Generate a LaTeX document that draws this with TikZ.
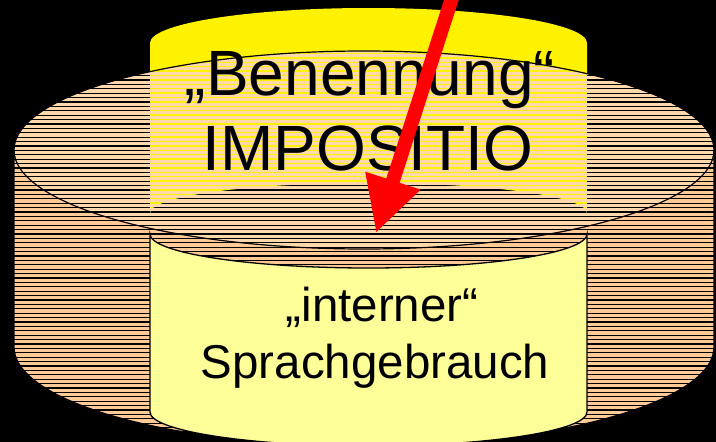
\documentclass[tikz,border=0pt]{standalone}
\usepackage{fontspec}
\setmainfont{Liberation Sans}
\usepackage{xcolor}
\usepackage{tikz}
\usetikzlibrary{arrows.meta}

\definecolor{peachtop}{HTML}{FFD8AC}
\definecolor{peachside}{HTML}{FFCA96}
\definecolor{paleyellow}{HTML}{FFFF99}

\begin{document}
\begin{tikzpicture}[
    x=1pt, y=-1pt,
    hatch/.style={black, line width=1.2pt},
    yellowhatch/.style={yellow, line width=1.3pt},
    outline/.style={black, line width=1.2pt},
    bigtext/.style={font=\fontsize{64pt}{75pt}\selectfont, inner sep=0pt},
    smalltext/.style={font=\fontsize{47.5pt}{57pt}\selectfont, inner sep=0pt},
    redarrow/.style={red, line width=14pt, -{Triangle[width=54pt, length=55pt]}},
]

% Background
\fill[black] (0,0) rectangle (716,442);
\clip (0,0) rectangle (716,442);

% Back cylinder (yellow)
\fill[yellow] (150,43) arc[start angle=180, end angle=0, x radius=218.5pt, y radius=35pt]
    -- (587,213) arc[start angle=0, end angle=180, x radius=218.5pt, y radius=30pt] -- cycle;

% Big disc: side and top face
\fill[peachside] (14,150) -- (14,347) arc[start angle=180, end angle=360, x radius=350pt, y radius=99pt]
    -- (714,150) arc[start angle=0, end angle=180, x radius=350pt, y radius=99pt] -- cycle;
\fill[peachtop] (364,150) ellipse[x radius=350pt, y radius=99pt];

% Hatching of the disc
\begin{scope}
    \clip (14,150) -- (14,347) arc[start angle=180, end angle=360, x radius=350pt, y radius=99pt]
        -- (714,150) arc[start angle=0, end angle=180, x radius=350pt, y radius=99pt] -- cycle;
    \foreach \y in {53.5,57.9,...,447} {
        \draw[hatch] (14,\y) -- (714,\y);
    }
    % yellow shows through the top face
    \clip (364,150) ellipse[x radius=350pt, y radius=99pt];
    \clip (150,43) arc[start angle=180, end angle=0, x radius=218.5pt, y radius=35pt]
        -- (587,213) arc[start angle=0, end angle=180, x radius=218.5pt, y radius=30pt] -- cycle;
    \foreach \y in {53.5,57.9,...,447} {
        \draw[yellowhatch] (150,\y) -- (587,\y);
    }
\end{scope}

% Outlines of the disc
\draw[outline] (364,150) ellipse[x radius=350pt, y radius=99pt];
\draw[outline] (14,150) -- (14,347) arc[start angle=180, end angle=360, x radius=350pt, y radius=99pt] -- (714,150);

% Front cylinder (pale yellow)
\filldraw[fill=paleyellow, draw=black, line width=1.3pt]
    (150,234) arc[start angle=180, end angle=360, x radius=218.5pt, y radius=34pt]
    -- (587,412) arc[start angle=0, end angle=-180, x radius=218.5pt, y radius=34pt] -- cycle;

% Labels
\node[bigtext, anchor=base] (benennung) at (370,95) {„Benennung“};
\node[bigtext, anchor=base] (impositio) at (368,170) {IMPOSITIO};
\node[smalltext, anchor=base] (interner) at (382,321) {„interner“};
\node[smalltext, anchor=base] (gebrauch) at (375,378) {Sprachgebrauch};

% Arrow
\coordinate (arrowstart) at (453,-5);
\coordinate (arrowtip) at (376,233);
\draw[redarrow] (arrowstart) -- (arrowtip);

\end{tikzpicture}
\end{document}
